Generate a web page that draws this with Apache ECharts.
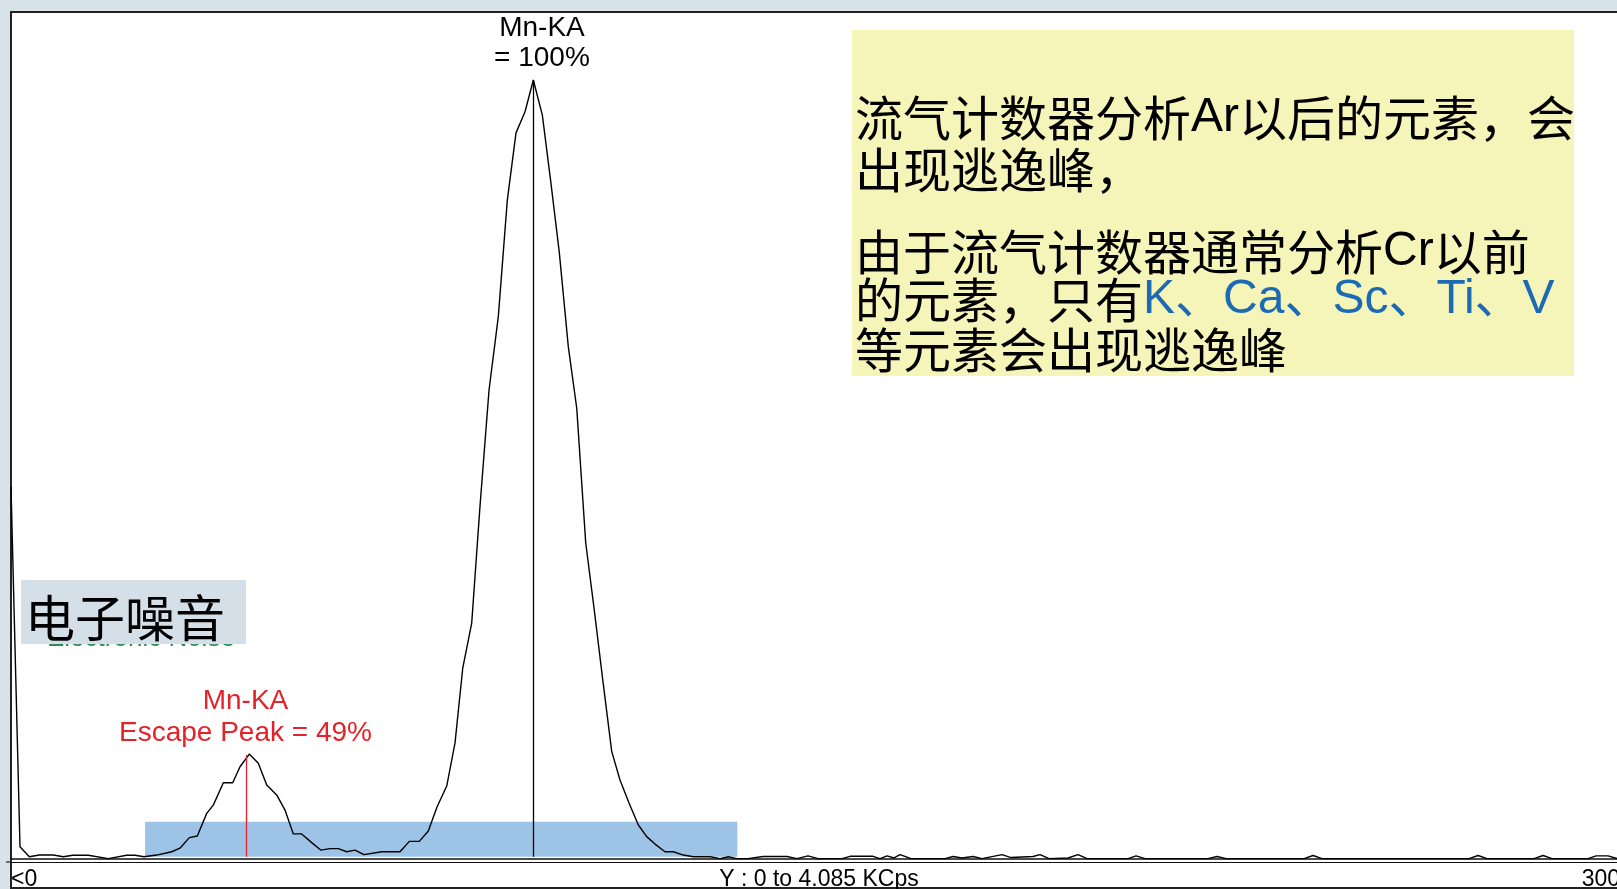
<!DOCTYPE html>
<html>
<head>
<meta charset="utf-8">
<script src="https://cdn.jsdelivr.net/npm/echarts@6/dist/echarts.min.js"></script>
<style>
  html, body { margin: 0; padding: 0; background: #d8e2e9; }
  #chart { width: 1617px; height: 889px; }
</style>
</head>
<body>
<div id="chart"></div>
<script>
// spectrum: channel (0..300) vs intensity (KCps)
const channels = [
  0, 1.68, 3.41, 5.28, 7.89, 9.75, 11.51, 14.41, 18.14, 21.57,
  23.12, 24.8, 27.17, 29.96, 31.51, 33.25, 34.74, 36.49, 37.72, 39.59,
  41.34, 42.7, 44.43, 46.11, 47.68, 49.54, 51.09, 52.64, 54.2, 56.07,
  57.75, 59.48, 61.03, 62.59, 64.14, 65.82, 69.12, 72.53, 74.27, 76.13,
  77.81, 79.43, 81.24, 82.79, 84.23, 85.9, 87.45, 89.13, 90.86, 92.54,
  94.16, 95.84, 97.39, 99.07, 100.69, 102.24, 103.91, 105.48, 107.16, 108.8,
  110.38, 112.01, 113.55, 115.23, 116.97, 118.53, 120.08, 121.95, 123.49, 125.36,
  127.22, 130.34, 132.2, 133.75, 135.31, 137.42, 140.22, 144.69, 146.55, 148.6,
  150.46, 154.95, 156.44, 160.73, 162.04, 163.34, 164.65, 165.76, 167.81, 174.15,
  175.64, 177.32, 179.37, 181.05, 184.78, 186.46, 190.56, 191.87, 193.54, 197.09,
  198.95, 200.63, 208.28, 209.77, 211.45, 223.19, 224.87, 226.55, 241.09, 242.77,
  244.44, 271.86, 273.53, 275.21, 283.97, 285.66, 287.33, 294.05, 295.54, 297.78,
  299.44, 300
];
const kcps = [
  1.794, 0.059, 0.011, 0.019, 0.019, 0.011, 0.018, 0.018, 0.002, 0.018,
  0.018, 0.011, 0.019, 0.035, 0.052, 0.103, 0.111, 0.22, 0.26, 0.368,
  0.368, 0.445, 0.506, 0.462, 0.357, 0.309, 0.236, 0.121, 0.121, 0.079,
  0.043, 0.05, 0.05, 0.035, 0.043, 0.021, 0.035, 0.035, 0.085, 0.085,
  0.135, 0.251, 0.352, 0.56, 0.921, 1.138, 1.703, 2.262, 2.616, 3.178,
  3.502, 3.604, 3.757, 3.588, 3.256, 2.923, 2.471, 2.175, 1.524, 1.191,
  0.854, 0.518, 0.381, 0.27, 0.164, 0.108, 0.072, 0.035, 0.035, 0.019,
  0.011, 0.011, 0.002, 0.011, 0.002, 0.002, 0.012, 0.012, 0.002, 0.015,
  0.002, 0.002, 0.013, 0.013, 0.002, 0.015, 0.005, 0.021, 0.002, 0.002,
  0.012, 0.005, 0.012, 0.002, 0.021, 0.007, 0.012, 0.021, 0.002, 0.005,
  0.021, 0.002, 0.002, 0.015, 0.002, 0.002, 0.012, 0.002, 0.002, 0.017,
  0.002, 0.002, 0.017, 0.002, 0.002, 0.017, 0.002, 0.002, 0.015, 0.015,
  0.002, 0.002
];

const xRange = [0, 300];
const yRange = [0, 4.085];
const xTickLabels = ['<0', '300'];
const yCaption = 'Y : 0 to 4.085 KCps';

// peak markers: channel, top of the line, label anchor
const peakChannels = [97.39, 43.95];
const peakTops = [3.757, 0.502];
const peakLabelChannels = [99.0, 43.72];
const peakLabelValues = [3.757, 0.506];
const peakLabels = ['Mn-KA\n= 100%', 'Mn-KA\nEscape Peak = 49%'];
const peakColors = ['#000000', '#e42229'];

// blue band under the escape peak and main peak
const bandChannels = [25.0, 135.43];
const bandValues = [0.011, 0.18];

const noiseLabel = '电子噪音';
const noiseLabelEn = 'Electronic Noise';

// note box, one list of runs per line: [text, style]
const noteLines = [
  [['流气计数器分析', 'c'], ['Ar', 'l'], ['以后的元素，会', 'c']],
  [['出现逃逸峰，', 'c']],
  [['由于流气计数器通常分析', 'c'], ['Cr', 'l'], ['以前', 'c']],
  [['的元素，只有', 'c'], ['K、Ca、Sc、Ti、V', 'b']],
  [['等元素会出现逃逸峰', 'c']]
];
const noteLineY = [118, 170, 252, 300, 350];

const chart = echarts.init(document.getElementById('chart'));

const noteRich = {
  c: { fontFamily: '"Noto Sans CJK SC"', fontSize: 48, fill: '#000', color: '#000' },
  l: { fontFamily: '"Liberation Sans"', fontSize: 48, fill: '#000', color: '#000' },
  b: { fontFamily: '"Liberation Sans", "Noto Sans CJK SC"', fontSize: 48, fill: '#1b6ab3', color: '#1b6ab3' }
};

const noteElements = noteLines.map((runs, i) => ({
  type: 'text',
  x: 855,
  y: noteLineY[i],
  z: 70,
  silent: true,
  style: {
    text: runs.map(([t, s]) => `{${s}|${t}}`).join(''),
    rich: noteRich,
    verticalAlign: 'middle',
    textVerticalAlign: 'middle'
  }
}));

const option = {
  animation: false,
  backgroundColor: '#d8e2e9',
  grid: { left: 11, right: -3, top: 12, bottom: 30, outerBoundsMode: 'none' },
  xAxis: [
    {
      type: 'value',
      min: xRange[0],
      max: xRange[1],
      interval: xRange[1] - xRange[0],
      position: 'bottom',
      axisLine: { show: true, onZero: false, lineStyle: { color: '#111', width: 1.6 } },
      axisTick: { show: false },
      splitLine: { show: false },
      axisLabel: {
        show: true,
        margin: 9,
        color: '#000',
        fontSize: 23,
        fontFamily: '"Liberation Sans", Arial',
        alignMinLabel: 'left',
        alignMaxLabel: 'right',
        formatter: (v) => (v === xRange[0] ? xTickLabels[0] : v === xRange[1] ? xTickLabels[1] : '')
      }
    },
    {
      type: 'value',
      min: xRange[0],
      max: xRange[1],
      position: 'bottom',
      offset: 3,
      axisLine: { show: true, onZero: false, lineStyle: { color: '#111', width: 1.1 } },
      axisTick: { show: false },
      axisLabel: { show: false },
      splitLine: { show: false }
    }
  ],
  yAxis: {
    type: 'value',
    min: yRange[0],
    max: yRange[1],
    show: false,
    splitLine: { show: false }
  },
  graphic: [
    {
      type: 'rect',
      z: -10,
      silent: true,
      shape: { x: 11, y: 12, width: 1625, height: 876 },
      style: { fill: '#ffffff', stroke: '#222', lineWidth: 2 }
    },
    {
      type: 'line',
      z: 10,
      silent: true,
      shape: { x1: 6, y1: 862, x2: 12, y2: 862 },
      style: { stroke: '#222', lineWidth: 1.2 }
    },
    {
      type: 'text',
      x: 819,
      y: 868,
      z: 10,
      silent: true,
      style: {
        text: yCaption,
        font: '23px "Liberation Sans"',
        fill: '#000',
        align: 'center',
        textAlign: 'center',
        verticalAlign: 'top',
        textVerticalAlign: 'top'
      }
    },
    {
      type: 'text',
      x: 47,
      y: 652,
      z: 50,
      silent: true,
      style: {
        text: noiseLabelEn,
        font: '26px "Liberation Sans"',
        fill: '#2e8b57',
        verticalAlign: 'bottom',
        textVerticalAlign: 'bottom'
      }
    },
    {
      type: 'rect',
      z: 60,
      silent: true,
      shape: { x: 21, y: 580, width: 225, height: 64 },
      style: { fill: '#d4dfe7' }
    },
    {
      type: 'text',
      x: 25,
      y: 618,
      z: 61,
      silent: true,
      style: {
        text: noiseLabel,
        font: '50px "Noto Sans CJK SC"',
        fill: '#000',
        verticalAlign: 'middle',
        textVerticalAlign: 'middle'
      }
    },
    {
      type: 'rect',
      z: 60,
      silent: true,
      shape: { x: 852, y: 30, width: 722, height: 346 },
      style: { fill: '#f5f4b9' }
    },
    ...noteElements
  ],
  series: [
    {
      type: 'line',
      data: channels.map((c, i) => [c, kcps[i]]),
      showSymbol: false,
      silent: true,
      lineStyle: { color: '#000', width: 1.4 },
      emphasis: { disabled: true },
      markArea: {
        silent: true,
        itemStyle: { color: '#9dc3e6', opacity: 1 },
        data: [[
          { xAxis: bandChannels[0], yAxis: bandValues[0] },
          { xAxis: bandChannels[1], yAxis: bandValues[1] }
        ]]
      },
      markLine: {
        silent: true,
        symbol: ['none', 'none'],
        label: { show: false },
        data: peakChannels.map((c, i) => [
          { coord: [c, 0.011], lineStyle: { color: peakColors[i], width: 1.3, type: 'solid' } },
          { coord: [c, peakTops[i]] }
        ])
      },
      markPoint: {
        silent: true,
        symbol: 'circle',
        symbolSize: 1,
        itemStyle: { color: 'rgba(0,0,0,0)' },
        data: peakLabels.map((t, i) => ({
          coord: [peakLabelChannels[i], peakLabelValues[i]],
          label: {
            show: true,
            position: 'top',
            distance: i === 0 ? 6 : 4,
            formatter: t,
            align: 'center',
            color: peakColors[i],
            fontSize: 28,
            lineHeight: i === 0 ? 30 : 32,
            fontFamily: '"Liberation Sans", Arial'
          }
        }))
      }
    }
  ]
};

chart.setOption(option);
</script>
</body>
</html>
